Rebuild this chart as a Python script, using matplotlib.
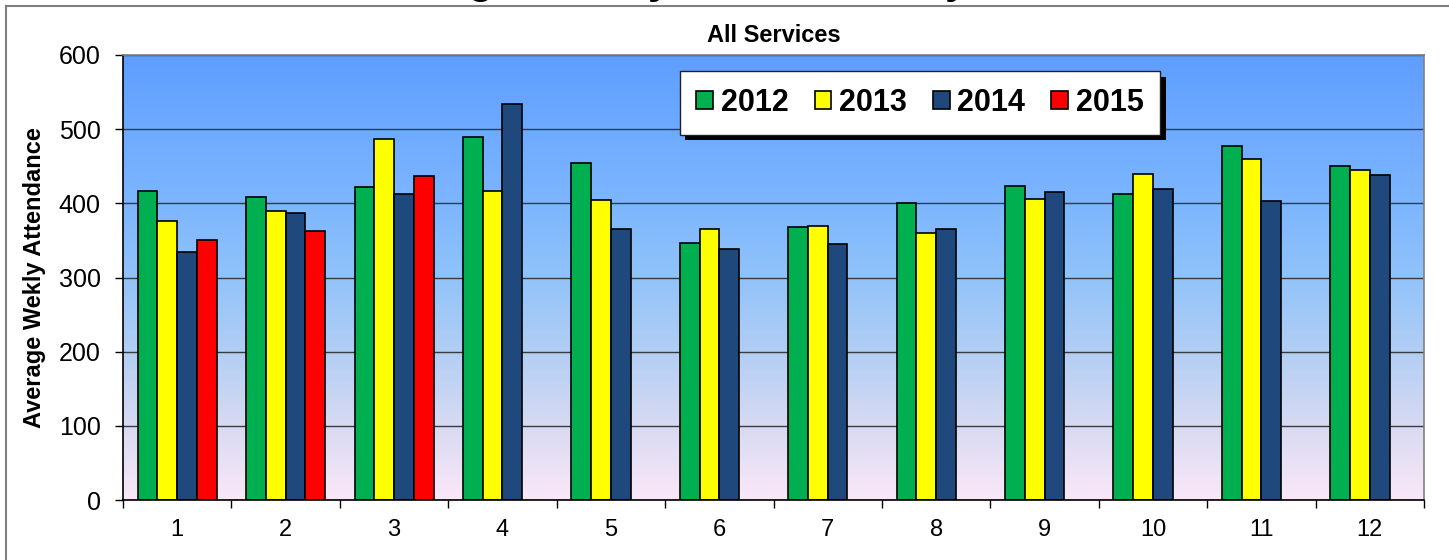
import numpy as np
import matplotlib
matplotlib.use("Agg")
import matplotlib.pyplot as plt
from matplotlib import patheffects
from matplotlib.colors import LinearSegmentedColormap
from matplotlib.lines import Line2D

plt.rcParams['font.family'] = ['Liberation Sans', 'DejaVu Sans']

months = [str(m) for m in range(1, 13)]
series_names = ["2012", "2013", "2014", "2015"]
v2012 = [417, 408, 422, 490, 455, 346, 368, 401, 424, 413, 477, 450]
v2013 = [376, 390, 487, 417, 405, 366, 369, 360, 406, 440, 460, 445]
v2014 = [334, 387, 413, 534, 366, 339, 345, 365, 415, 419, 403, 438]
v2015 = [350, 363, 437, np.nan, np.nan, np.nan, np.nan, np.nan, np.nan, np.nan, np.nan, np.nan]
colors = ["#00B050", "#FFFF00", "#1F497D", "#FF0000"]
yticks = [0, 100, 200, 300, 400, 500, 600]

W, H = 1449, 560
fig = plt.figure(figsize=(W / 100, H / 100), dpi=100)
left, right, top, bottom = 123, 1424, 55, 500
ax = fig.add_axes([left / W, 1 - bottom / H, (right - left) / W, (bottom - top) / H])

# gradient background
stops = [(0.0, (250/255, 232/255, 248/255)),
         (1/6, (215/255, 218/255, 242/255)),
         (2/6, (178/255, 206/255, 244/255)),
         (3/6, (145/255, 195/255, 250/255)),
         (4/6, (125/255, 182/255, 255/255)),
         (1.0, (95/255, 158/255, 255/255))]
cmap = LinearSegmentedColormap.from_list("bg", stops)
grad = np.linspace(1, 0, 256).reshape(-1, 1)
ax.imshow(grad, cmap=cmap, aspect='auto', extent=[0, 1, 0, 1],
          transform=ax.transAxes, zorder=0, vmin=0, vmax=1)

x = np.arange(len(months))
bw = 0.182
data = [v2012, v2013, v2014, v2015]
for i, (vals, c) in enumerate(zip(data, colors)):
    ax.bar(x + (i - 1.5) * bw, vals, width=bw, color=c, edgecolor='black',
           linewidth=1.2, zorder=3)

ax.set_xlim(-0.5, len(months) - 0.5)
ax.set_ylim(0, 600)
ax.set_yticks(yticks)
ax.set_yticklabels([str(t) for t in yticks], fontsize=18)
ax.yaxis.grid(True, color='#3a3a3a', linewidth=1.0, zorder=1)
ax.set_axisbelow(True)

ax.set_xticks(np.arange(-0.5, len(months)), labels=[''] * (len(months) + 1))
ax.set_xticks(x, labels=months, minor=True)
ax.tick_params(axis='x', which='major', length=6, direction='out', color='black', width=1)
ax.tick_params(axis='x', which='minor', length=0, labelsize=17, pad=14)
ax.tick_params(axis='y', length=6, direction='out', color='black', width=1, pad=10)

ax.spines['left'].set_color('black')
ax.spines['bottom'].set_color('black')
ax.spines['top'].set_color('#808080')
ax.spines['right'].set_color('#808080')
for s in ax.spines.values():
    s.set_linewidth(1.2)
    s.set_zorder(4)

ax.set_ylabel("Average Wekly Attendance", fontsize=17, fontweight='bold', labelpad=9)
ax.set_title("All Services", fontsize=17, fontweight='bold', pad=9)

handles = [plt.Rectangle((0, 0), 1, 1, facecolor=c, edgecolor='black', linewidth=1.2)
           for c in colors]
leg = ax.legend(handles, series_names, loc='center', ncol=4,
                bbox_to_anchor=(920 / W, 1 - 103 / H), bbox_transform=fig.transFigure,
                prop={'size': 22, 'weight': 'bold'}, frameon=True, fancybox=False,
                framealpha=1, edgecolor='#202020', handlelength=0.55, handleheight=0.55,
                handletextpad=0.25, columnspacing=0.85, borderpad=0.55)
leg.get_frame().set_linewidth(1.0)
leg.get_frame().set_path_effects([
    patheffects.SimplePatchShadow(offset=(4, -4), shadow_rgbFace='black', alpha=1.0),
    patheffects.Normal()])
leg.set_zorder(10)

# outer chart frame (top and left visible)
fig.add_artist(Line2D([5.5 / W, 1.0], [1 - 5.5 / H, 1 - 5.5 / H], transform=fig.transFigure,
                      color='#808080', linewidth=1.5))
fig.add_artist(Line2D([5.5 / W, 5.5 / W], [0, 1 - 5.5 / H], transform=fig.transFigure,
                      color='#808080', linewidth=1.5))

# page title, mostly clipped at the top edge (as in the reference)
fig.text(729 / W, 1 + 6.5 / H, "Average Weekly Attendance by Month", ha='center',
         va='baseline', fontsize=30, fontweight='bold')

fig.savefig("out.png", dpi=100)
